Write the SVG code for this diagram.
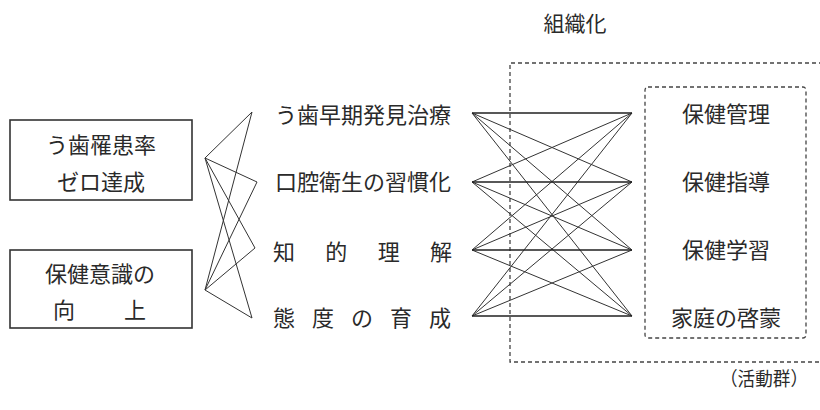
<svg xmlns="http://www.w3.org/2000/svg" width="820" height="410" viewBox="0 0 820 410">
<style>
text{font-family:"Noto Sans CJK JP","Noto Sans CJK SC",sans-serif;font-size:22px;fill:#2a2a2a;dominant-baseline:central}
.c{text-anchor:middle}
.box{fill:none;stroke:#333;stroke-width:1.6}
.dash{fill:none;stroke:#444;stroke-width:1.3;stroke-dasharray:4 3}
.ln{stroke:#333;stroke-width:1;fill:none}
.lb{stroke:#222;stroke-width:1.5}
</style>
<rect width="820" height="410" fill="#fff"/>
<g id="title"><text class="c" x="575" y="22" style="font-size:21px">組織化</text></g>
<g id="outer-group"><path class="dash" d="M830,63 H510 V362 H830"/></g>
<g id="inner-group"><rect class="dash" x="645" y="87" width="161" height="251" rx="3"/></g>
<g id="goal1"><rect class="box" x="10" y="120" width="182" height="80"/>
<text class="c" x="101" y="143">う歯罹患率</text><text class="c" x="101" y="180">ゼロ達成</text></g>
<g id="goal2"><rect class="box" x="10" y="250" width="182" height="78"/>
<text class="c" x="100" y="272">保健意識の</text><text x="53" y="308">向</text><text x="124" y="308">上</text></g>
<g id="m1"><text x="275" y="113" textLength="176" lengthAdjust="spacing">う歯早期発見治療</text></g>
<g id="m2"><text x="275" y="180" textLength="176" lengthAdjust="spacing">口腔衛生の習慣化</text></g>
<g id="m3"><text x="273" y="250" textLength="179" lengthAdjust="spacing">知的理解</text></g>
<g id="m4"><text x="273" y="316" textLength="178" lengthAdjust="spacing">態度の育成</text></g>
<g id="a1"><text class="c" x="726" y="112">保健管理</text></g>
<g id="a2"><text class="c" x="726" y="180">保健指導</text></g>
<g id="a3"><text class="c" x="726" y="248">保健学習</text></g>
<g id="a4"><text class="c" x="726" y="316">家庭の啓蒙</text></g>
<g id="label"><text x="720" y="377" textLength="88" lengthAdjust="spacingAndGlyphs" style="font-size:19px">（活動群）</text></g>
<g id="connectors">
<g class="ln">
<path d="M205,158 L252,112 M205,158 L257,182 M205,158 L255,248 M205,158 L252,318"/>
<path d="M205,290 L252,112 M205,290 L257,182 M205,290 L255,248 M205,290 L252,318"/>
</g>
<g class="ln">
<path d="M472,113 L632,182 M472,113 L632,250 M472,113 L632,316"/>
<path d="M472,182 L632,113 M472,182 L632,250 M472,182 L632,316"/>
<path d="M472,250 L632,113 M472,250 L632,182 M472,250 L632,316"/>
<path d="M472,316 L632,113 M472,316 L632,182 M472,316 L632,250"/>
</g>
<path class="lb" d="M472,113 H632 M472,182 H632 M472,250 H632 M472,316 H632"/>
</g>
</svg>
